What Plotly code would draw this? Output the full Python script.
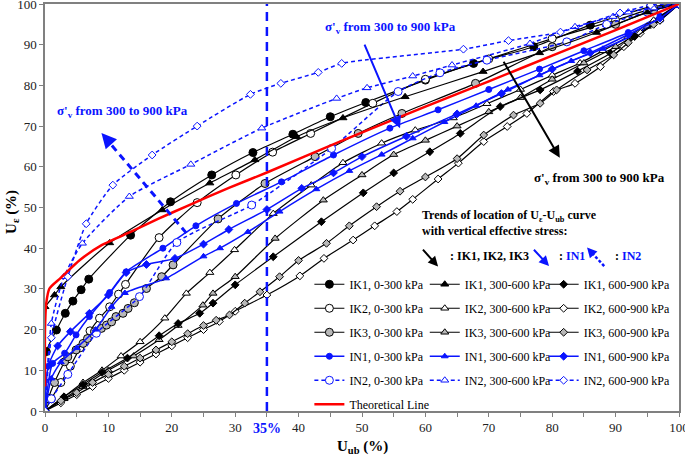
import plotly.graph_objects as go

# ---------------- data ----------------
ik1_0300_x = [0, 0.2, 1.8, 3.2, 4.4, 5.7, 6.9, 13.5, 19.8, 26.3, 32.8, 39.1, 45, 50.6, 60, 67.6, 77.1, 86, 95.5, 100]
ik1_0300_y = [3.5, 14.6, 19.9, 24, 27, 29.8, 32.4, 43.2, 51.4, 58, 63.5, 68, 72.3, 75.8, 81.3, 85.4, 89.5, 94.8, 99.3, 100]
ik2_0300_x = [0, 1, 2.5, 4, 5.5, 7.1, 8.6, 10.2, 11.6, 12.7, 18, 24, 30.1, 35.9, 41.9, 51.7, 60, 70, 80, 90, 96, 100]
ik2_0300_y = [0, 3, 7, 11, 15.5, 19.7, 22.8, 25.6, 28.7, 31.1, 42.6, 51.2, 58, 63.6, 68.2, 75.6, 81.5, 86.5, 91.5, 96, 99, 100]
ik3_0300_x = [0, 0.5, 1.5, 3.1, 3.6, 4.9, 6, 6.7, 7.8, 8.9, 9.7, 10.5, 11.2, 12.3, 13.1, 14.1, 16, 18.4, 20.2, 27.3, 34.7, 42.6, 49.4, 56.3, 67.9, 80, 90, 96, 100]
ik3_0300_y = [0, 3, 7, 12.1, 13.3, 15, 16.6, 17.8, 19.5, 20.3, 21.1, 21.9, 23.2, 24, 25.2, 26.6, 30.1, 33, 35.9, 47.2, 55.9, 62.5, 68.2, 73.1, 80.5, 89.5, 95, 98.5, 100]

ik1_3060_x = [0, 1.5, 2.5, 10.2, 18.5, 26, 33.1, 39.7, 47, 56.8, 69.1, 78, 87, 95, 100]
ik1_3060_y = [25.6, 28.5, 30.5, 41.3, 49.4, 56, 61.7, 67.4, 72, 77.2, 83.4, 88, 93, 98, 100]
ik2_3060_x = [0, 3, 6, 9, 12, 15, 18.9, 22.3, 26, 29.9, 36, 42, 47, 53.1, 58.4, 64.4, 69.7, 75, 80, 84.4, 88, 92, 96, 100]
ik2_3060_y = [0, 3.5, 7, 10, 13.5, 17, 22.8, 28.9, 34, 39.6, 48.5, 55.5, 61, 65.8, 69, 72, 75.5, 79, 82.5, 85.5, 88.5, 92, 96, 100]
ik3_3060_x = [0, 3, 6, 10, 14, 18, 21, 24.9, 26.5, 30, 36.3, 43.9, 50, 55, 60, 65, 70, 75, 80, 85, 90, 95, 100]
ik3_3060_y = [0, 3, 6, 10, 13.5, 17.5, 21, 26, 28.9, 33, 42.4, 51.8, 58, 63, 66.5, 70, 73.5, 77, 81.5, 85.5, 89.5, 94.5, 100]

ik1_6090_x = [0, 3, 6, 9, 13, 18, 21, 24.4, 26.5, 30, 36, 43.6, 50.2, 55, 60.7, 65.5, 71.8, 78.1, 84, 89.2, 93, 97, 100]
ik1_6090_y = [0, 3.5, 6.5, 9.5, 13, 18.5, 21.5, 24, 26.5, 31, 37.9, 46.5, 53.6, 58.5, 63.7, 68.2, 74.8, 78.9, 83.5, 87.9, 92, 96, 100]
ik2_6090_x = [0, 2.5, 5, 7.5, 10, 12.5, 15, 17.5, 20, 22.5, 25, 27.5, 30, 35, 40.2, 44, 48.6, 52, 55.5, 58, 62, 65.2, 69.2, 72.9, 76, 80.2, 83.6, 87.6, 91.3, 93.9, 97, 100]
ik2_6090_y = [0, 2, 4, 6, 8, 10, 12, 14, 16, 18, 20, 22, 24.5, 28.5, 33.2, 37.5, 42, 45.5, 49, 52, 57, 60.9, 66.2, 69.9, 73.1, 78.5, 80.5, 84.6, 89.5, 92.8, 96, 100]
ik3_6090_x = [0, 2.5, 5, 7.5, 10, 12.5, 15, 17.5, 20, 22.5, 25, 27, 29.1, 31.5, 33.9, 37, 40, 44.4, 48, 52.3, 56, 60, 65, 69.2, 73.9, 78.1, 80.7, 85.5, 89.7, 92, 96, 100]
ik3_6090_y = [0, 2.5, 4.5, 7, 9, 11, 13, 15, 17, 19, 21, 22.3, 23.6, 26.5, 29.3, 33, 37, 41.2, 45.5, 50.2, 54, 57.5, 62, 67.8, 72.7, 75.6, 78.9, 83.8, 87.5, 90.5, 95, 100]

in1_0300_x = [0, 1.2, 3.1, 4.9, 7, 10.2, 12.8, 18.6, 23.8, 30.2, 37.3, 45.5, 54.4, 62, 70, 78, 85, 92, 97, 100]
in1_0300_y = [0, 11.7, 14.2, 18.7, 23.2, 29.1, 34.2, 40, 45.5, 51, 56.3, 62.9, 69.5, 74, 79, 84, 88.5, 93, 97, 100]
in1_3060_x = [0, 1, 2.5, 5, 8, 10.5, 12.6, 19.1, 25, 27.6, 32, 37, 42.8, 48, 53.1, 58, 63, 68, 73, 78, 83, 88, 93, 97, 100]
in1_3060_y = [0, 8, 12, 15.5, 20, 25.6, 29, 32.6, 38, 40, 44, 49, 54.5, 59, 63, 67, 71, 75, 79, 82.5, 86, 89, 92.5, 96, 100]
in1_6090_x = [0, 0.5, 2, 4, 7, 10, 12.8, 16, 20.5, 25, 29, 35, 40.5, 45.5, 50, 57, 65, 72, 80, 86, 92, 97, 100]
in1_6090_y = [0, 11, 16, 19.5, 24, 28.5, 34, 36, 37.5, 41, 44.6, 49.5, 54.7, 58.5, 62.5, 67.5, 73, 78, 84, 88, 92.5, 96.5, 100]

in2_0300_x = [0, 1, 3.6, 8.1, 14.9, 20.8, 32.6, 45.2, 55.7, 62.3, 69.7, 82.3, 88.6, 95, 100]
in2_0300_y = [0, 3, 9, 19.1, 28.1, 41.4, 50.6, 64.5, 78.5, 83.1, 86.2, 90.7, 95, 98, 100]
in2_3060_x = [0, 1, 3, 5.9, 13.3, 23, 34.2, 46, 50.8, 58, 64.2, 76.5, 83.6, 89.6, 92, 96, 100]
in2_3060_y = [0, 21.5, 33, 41.2, 52.7, 60.6, 69.5, 76.8, 79.4, 82.3, 85, 90.3, 94.4, 96.9, 98, 99, 100]
in2_6090_x = [0, 1, 3.6, 6.5, 10.7, 16.9, 24, 32.4, 37.2, 43.1, 46.8, 66, 73.1, 81.3, 90.7, 95.5, 100]
in2_6090_y = [0, 18, 33, 46, 55.5, 62.9, 70, 77.8, 80.5, 83.2, 85.4, 88.9, 91, 93.1, 97.8, 99.7, 100]

theory_x = [0, 0, 0.2, 0.7, 2.4, 5.5, 9, 13.5, 18, 22.3, 29, 35, 46.5, 60, 70, 80, 90, 100]
theory_y = [6, 20, 26.5, 30.1, 32.6, 37.1, 40.8, 44, 47.3, 50.3, 54.8, 58.6, 66.2, 74.8, 81, 87.3, 93.6, 100]

x_ticks = [0, 10, 20, 30, 40, 50, 60, 70, 80, 90, 100]
y_ticks = [0, 10, 20, 30, 40, 50, 60, 70, 80, 90, 100]

# ---------------- styling ----------------
FONT = "Liberation Serif, Times New Roman, serif"
BLACK = "#000000"
GREY = "#b8b8b8"
BLUE = "#0a14ff"
RED = "#ff0000"

fig = go.Figure()

def add(name, x, y, color, symbol, fill, size, legend, dash="solid", lw=1.2):
    fig.add_trace(go.Scatter(
        x=x, y=y, name=name, mode="lines+markers",
        line=dict(color=color, width=lw, dash=dash, shape="spline", smoothing=0.6),
        marker=dict(symbol=symbol, size=size, color=fill, line=dict(color=color, width=1)),
        legend=legend, legendgroup=name,
    ))

# column 1
add("IK1, 0-300 kPa", ik1_0300_x, ik1_0300_y, BLACK, "circle", BLACK, 8, "legend")
add("IK2, 0-300 kPa", ik2_0300_x, ik2_0300_y, BLACK, "circle", "white", 8, "legend")
add("IK3, 0-300 kPa", ik3_0300_x, ik3_0300_y, BLACK, "circle", GREY, 8, "legend")
add("IN1, 0-300 kPa", in1_0300_x, in1_0300_y, BLUE, "circle", BLUE, 6, "legend", lw=1.5)
add("IN2, 0-300 kPa", in2_0300_x, in2_0300_y, BLUE, "circle", "white", 8, "legend", dash="4px,3px", lw=1.5)
# column 2
add("IK1, 300-600 kPa", ik1_3060_x, ik1_3060_y, BLACK, "triangle-up", BLACK, 7, "legend2")
add("IK2, 300-600 kPa", ik2_3060_x, ik2_3060_y, BLACK, "triangle-up", "white", 7, "legend2")
add("IK3, 300-600 kPa", ik3_3060_x, ik3_3060_y, BLACK, "triangle-up", GREY, 7, "legend2")
add("IN1, 300-600 kPa", in1_3060_x, in1_3060_y, BLUE, "triangle-up", BLUE, 6, "legend2", lw=1.5)
add("IN2, 300-600 kPa", in2_3060_x, in2_3060_y, BLUE, "triangle-up", "white", 7, "legend2", dash="4px,3px", lw=1.5)
# column 3
add("IK1, 600-900 kPa", ik1_6090_x, ik1_6090_y, BLACK, "diamond", BLACK, 6, "legend3")
add("IK2, 600-900 kPa", ik2_6090_x, ik2_6090_y, BLACK, "diamond", "white", 6, "legend3")
add("IK3, 600-900 kPa", ik3_6090_x, ik3_6090_y, BLACK, "diamond", GREY, 6, "legend3")
add("IN1, 600-900 kPa", in1_6090_x, in1_6090_y, BLUE, "diamond", BLUE, 6, "legend3", lw=1.5)
add("IN2, 600-900 kPa", in2_6090_x, in2_6090_y, BLUE, "diamond", "white", 6, "legend3", dash="4px,3px", lw=1.5)

fig.add_trace(go.Scatter(
    x=theory_x, y=theory_y, name="Theoretical Line", mode="lines",
    line=dict(color=RED, width=2.5, shape="spline", smoothing=0.6),
    legend="legend", legendgroup="theory",
))

leg_common = dict(
    font=dict(family=FONT, size=12, color=BLACK),
    bgcolor="rgba(0,0,0,0)", borderwidth=0,
    traceorder="grouped", tracegroupgap=5,
    xanchor="left", yanchor="top", itemclick=False, itemdoubleclick=False,
)

axis_common = dict(
    range=[0, 100], showgrid=False, zeroline=False, automargin=False,
    showline=True, linecolor="#808080", linewidth=1.5, mirror=True,
    ticks="outside", ticklen=4, tickcolor="#808080", tickwidth=1,
    ticklabeloverflow="allow",
    tickfont=dict(family=FONT, size=13, color="#222222"),
)

fig.update_layout(
    width=685, height=458,
    margin=dict(l=45, r=6, t=4, b=47, autoexpand=False),
    paper_bgcolor="white", plot_bgcolor="white",
    font=dict(family=FONT, color=BLACK),
    showlegend=True,
    legend=dict(x=0.417, y=0.347, **leg_common),
    legend2=dict(x=0.599, y=0.347, **leg_common),
    legend3=dict(x=0.7865, y=0.347, **leg_common),
    xaxis=dict(tickvals=x_ticks, minor=dict(dtick=5, ticks="outside", ticklen=4, tickcolor="#808080"),
               **axis_common),
    yaxis=dict(tickvals=y_ticks, **axis_common),
)

# axis titles
fig.add_annotation(x=0.5, y=-0.088, xref="paper", yref="paper", showarrow=False,
                   text="<b>U<sub>ub</sub> (%)</b>", font=dict(family=FONT, size=15, color=BLACK),
                   xanchor="center", yanchor="middle")
fig.add_annotation(x=-0.053, y=0.49, xref="paper", yref="paper", showarrow=False, textangle=-90,
                   text="<b>U<sub>ε</sub> (%)</b>", font=dict(family=FONT, size=15, color=BLACK),
                   xanchor="center", yanchor="middle")

# vertical 35% line
fig.add_shape(type="line", x0=35, x1=35, y0=0, y1=100, xref="x", yref="y",
              line=dict(color=BLUE, width=2.5, dash="9px,6px"))
fig.add_annotation(x=35, y=-0.043, xref="x", yref="paper", text="<b>35%</b>", showarrow=False,
                   font=dict(family=FONT, size=14, color=BLUE), yanchor="middle")

# text labels
fig.add_annotation(x=1.5, y=73.5, xref="x", yref="y", xanchor="left", showarrow=False,
                   text="<b>σ'<sub>v</sub> from 300 to 900 kPa</b>", font=dict(family=FONT, size=13, color=BLUE))
fig.add_annotation(x=54.5, y=94.3, xref="x", yref="y", showarrow=False,
                   text="<b>σ'<sub>v</sub> from 300 to 900 kPa</b>", font=dict(family=FONT, size=13, color=BLUE))
fig.add_annotation(x=87.5, y=57.2, xref="x", yref="y", showarrow=False,
                   text="<b>σ'<sub>v</sub> from 300 to 900 kPa</b>", font=dict(family=FONT, size=13, color=BLACK))

# big arrows
fig.add_shape(type="line", x0=22.3, y0=43.7, x1=9.8, y1=66.6, xref="x", yref="y",
              line=dict(color=BLUE, width=3, dash="7px,5px"))
fig.add_annotation(x=8.9, y=68.3, ax=10.2, ay=66.0, xref="x", yref="y", axref="x", ayref="y",
                   text="", showarrow=True, arrowhead=2, arrowsize=1.2, arrowwidth=2.5, arrowcolor=BLUE)
fig.add_annotation(x=56, y=69.5, ax=50.3, ay=90.4, xref="x", yref="y", axref="x", ayref="y",
                   text="", showarrow=True, arrowhead=2, arrowsize=1.2, arrowwidth=2, arrowcolor=BLUE)
fig.add_annotation(x=81.2, y=62.2, ax=72.2, ay=86.2, xref="x", yref="y", axref="x", ayref="y",
                   text="", showarrow=True, arrowhead=2, arrowsize=1.2, arrowwidth=2, arrowcolor=BLACK)

# trends block
fig.add_annotation(x=59.1, y=46.1, xref="x", yref="y", xanchor="left", align="left", showarrow=False,
                   text="<b>Trends of location of U<sub>ε</sub>-U<sub>ub</sub> curve</b><br><b>with vertical effective stress:</b>",
                   font=dict(family=FONT, size=12, color=BLACK))
fig.add_annotation(x=62, y=35.5, ax=59.4, ay=40, xref="x", yref="y", axref="x", ayref="y",
                   text="", showarrow=True, arrowhead=2, arrowsize=1, arrowwidth=2, arrowcolor=BLACK)
fig.add_annotation(x=63.5, y=38.1, xref="x", yref="y", xanchor="left", showarrow=False,
                   text="<b>: IK1, IK2, IK3</b>", font=dict(family=FONT, size=12, color=BLACK))
fig.add_annotation(x=79.5, y=35.6, ax=76.9, ay=40, xref="x", yref="y", axref="x", ayref="y",
                   text="", showarrow=True, arrowhead=2, arrowsize=1, arrowwidth=2, arrowcolor=BLUE)
fig.add_annotation(x=80.7, y=38.1, xref="x", yref="y", xanchor="left", showarrow=False,
                   text="<b>: <span style='color:#0a14ff'>IN1</span></b>", font=dict(family=FONT, size=12, color=BLACK))
fig.add_shape(type="line", x0=88.2, y0=35.6, x1=86.0, y1=39.3, xref="x", yref="y",
              line=dict(color=BLUE, width=2.5, dash="3px,2px"))
fig.add_annotation(x=85.5, y=40.2, ax=86.4, ay=38.6, xref="x", yref="y", axref="x", ayref="y",
                   text="", showarrow=True, arrowhead=2, arrowsize=1, arrowwidth=2, arrowcolor=BLUE)
fig.add_annotation(x=89.6, y=38.1, xref="x", yref="y", xanchor="left", showarrow=False,
                   text="<b>: <span style='color:#0a14ff'>IN2</span></b>", font=dict(family=FONT, size=12, color=BLACK))

fig.write_html("out.html", config={"displayModeBar": False},
               post_script="document.body.style.margin='0';")
